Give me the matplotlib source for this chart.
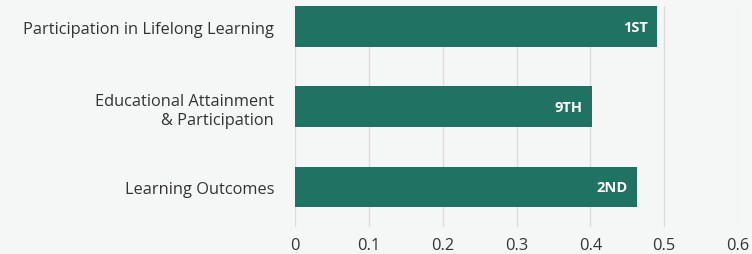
import matplotlib
matplotlib.use('Agg')
import matplotlib.pyplot as plt

categories = ['Participation in Lifelong Learning', 'Educational Attainment\n& Participation', 'Learning Outcomes']
values = [0.49, 0.402, 0.463]
ranks = ['1ST', '9TH', '2ND']
ticks = [0, 0.1, 0.2, 0.3, 0.4, 0.5, 0.6]
tick_labels = ['0', '0.1', '0.2', '0.3', '0.4', '0.5', '0.6']

bg = '#f5f7f6'
bar_color = '#207262'

plt.rcParams['font.family'] = ['Open Sans', 'DejaVu Sans']

fig = plt.figure(figsize=(7.52, 2.55), dpi=100, facecolor=bg)
ax = fig.add_axes([0.3923, 0.106, 0.5891, 0.8665])
ax.set_facecolor(bg)

y = list(range(len(categories)))
ax.barh(y, values, height=0.51, color=bar_color, zorder=2)
for yi, v, r in zip(y, values, ranks):
    ax.text(v - 0.0125, yi, r, ha='right', va='center', color='white',
            fontsize=10.5, fontweight='bold', zorder=3)

ax.set_xlim(0, 0.6)
ax.set_ylim(2.5, -0.26)
ax.set_xticks(ticks)
ax.set_xticklabels(tick_labels)
ax.set_yticks(y)
ax.set_yticklabels(categories, linespacing=1.25)
ax.tick_params(axis='both', length=0, colors='#333333', labelsize=11.8)
ax.tick_params(axis='y', pad=15)
ax.tick_params(axis='x', pad=7)
for lab in ax.get_yticklabels():
    lab.set_horizontalalignment('right')
ax.grid(axis='x', color='#dcdcdc', linewidth=1, zorder=0)
for s in ax.spines.values():
    s.set_visible(False)

fig.savefig('out.png', dpi=100, facecolor=bg)
